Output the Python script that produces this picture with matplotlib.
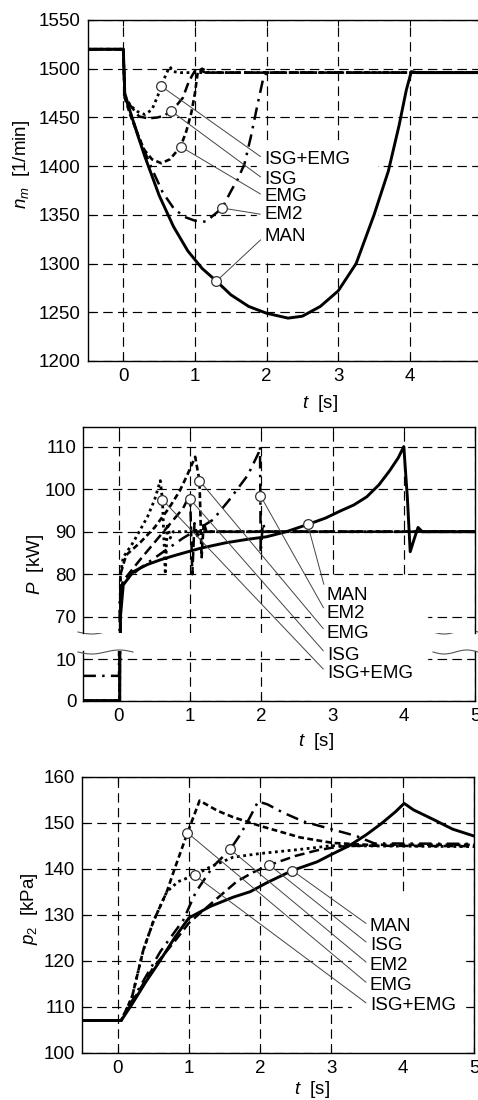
import numpy
import matplotlib.pyplot as plt
from matplotlib.patches import Rectangle
from matplotlib.lines import Line2D

plt.rcParams["font.family"] = ["Liberation Sans", "DejaVu Sans"]
plt.rcParams["font.size"] = 13.5
plt.rcParams["mathtext.fontset"] = "custom"
plt.rcParams["mathtext.it"] = "Liberation Sans:italic"
plt.rcParams["mathtext.rm"] = "Liberation Sans"

W, H = 478, 1100

# ---- engine speed n_m [1/min] ----
tN_MAN = [-0.5, 0.0, 0.02, 0.1, 0.2, 0.3, 0.4, 0.5, 0.7, 0.9, 1.1, 1.3, 1.5, 1.75, 2.0, 2.3, 2.5, 2.75, 3.0, 3.25, 3.5, 3.7, 3.85, 3.95, 4.02, 4.1, 5.0]
nN_MAN = [1520, 1520, 1475, 1455, 1432, 1410, 1390, 1370, 1338, 1313, 1295, 1282, 1268, 1256, 1249, 1244, 1246, 1256, 1272, 1300, 1350, 1395, 1442, 1478, 1497, 1496, 1496]
tN_ISGEMG = [-0.5, 0.0, 0.02, 0.1, 0.2, 0.3, 0.4, 0.48, 0.53, 0.6, 0.65, 0.7, 0.8, 5.0]
nN_ISGEMG = [1520, 1520, 1472, 1462, 1456, 1453, 1458, 1472, 1482, 1495, 1502, 1497, 1496, 1496]
tN_ISG = [-0.5, 0.0, 0.02, 0.1, 0.22, 0.35, 0.48, 0.58, 0.66, 0.75, 0.83, 0.9, 0.96, 1.02, 1.08, 1.15, 5.0]
nN_ISG = [1520, 1520, 1472, 1462, 1451, 1449, 1450, 1452, 1457, 1463, 1470, 1484, 1493, 1500, 1498, 1496, 1496]
tN_EMG = [-0.5, 0.0, 0.02, 0.1, 0.2, 0.29, 0.4, 0.53, 0.65, 0.8, 0.88, 0.95, 1.0, 1.04, 1.1, 1.2, 5.0]
nN_EMG = [1520, 1520, 1470, 1452, 1433, 1417, 1407, 1403, 1407, 1420, 1436, 1455, 1475, 1497, 1500, 1496, 1496]
tN_EM2 = [-0.5, 0.0, 0.02, 0.2, 0.4, 0.55, 0.7, 0.85, 1.0, 1.15, 1.25, 1.38, 1.5, 1.6, 1.69, 1.78, 1.87, 1.95, 2.0, 5.0]
nN_EM2 = [1520, 1520, 1472, 1433, 1397, 1373, 1357, 1348, 1344, 1343, 1349, 1357, 1374, 1387, 1402, 1430, 1462, 1489, 1496, 1496]

nLabels = ["ISG+EMG", "ISG", "EMG", "EM2", "MAN"]
nMarkT = [0.53, 0.66, 0.8, 1.38, 1.30]
nMarkV = [1482, 1457, 1420, 1357, 1282]
nTextV = [1407, 1386, 1369, 1350, 1328]

# ---- power P [kW] ----
tP_MAN = [-0.5, 0.01, 0.02, 0.06, 0.2, 0.4, 0.6, 0.8, 1.14, 1.5, 1.8, 2.07, 2.35, 2.65, 2.9, 3.1, 3.3, 3.48, 3.65, 3.8, 3.92, 4.0, 4.05, 4.09, 4.15, 4.2, 4.26, 5.0]
pP_MAN = [0, 0, 70, 77.5, 80.6, 82.3, 83.5, 84.5, 86.1, 87.4, 88.2, 88.8, 90.0, 91.7, 93.2, 94.8, 96.3, 98.2, 101.0, 104.3, 107.3, 110.0, 98, 85.3, 88.5, 91, 90, 90]
tP_ISGEMG = [-0.5, 0.01, 0.02, 0.06, 0.2, 0.4, 0.5, 0.58, 0.61, 0.65, 0.68, 0.72, 0.76, 5.0]
pP_ISGEMG = [0, 0, 80, 84, 87.5, 93.5, 97.5, 102, 97.5, 80, 92, 88.5, 90, 90]
tP_ISG = [-0.5, 0.01, 0.02, 0.06, 0.3, 0.5, 0.7, 0.9, 0.99, 1.0, 1.03, 1.06, 1.1, 1.15, 5.0]
pP_ISG = [0, 0, 76, 78.5, 83.5, 87.5, 91.5, 95.5, 98.5, 97.6, 80, 92, 89, 90, 90]
tP_EMG = [-0.5, 0.01, 0.02, 0.1, 0.3, 0.5, 0.7, 0.85, 0.95, 1.07, 1.13, 1.16, 1.19, 1.23, 5.0]
pP_EMG = [0, 0, 80, 84.5, 87.5, 91, 95.5, 99.5, 103, 107.6, 102, 84, 92, 90, 90]
tP_EM2 = [-0.5, 0.0, 0.01, 0.05, 0.3, 0.6, 0.9, 1.1, 1.32, 1.55, 1.81, 1.96, 1.98, 1.985, 1.99, 2.02, 2.06, 5.0]
pP_EM2 = [6, 6, 75, 78, 81.5, 85, 88.5, 90.5, 92.8, 97.5, 103.3, 108.5, 110, 98.5, 85, 92, 90, 90]

pLabels = ["MAN", "EM2", "EMG", "ISG", "ISG+EMG"]
pMarkT = [2.65, 1.985, 1.13, 1.0, 0.61]
pMarkV = [91.7, 98.5, 102, 97.6, 97.5]
pTextY = [596, 614, 633, 655, 673]   # rows of the label centres, from the top

# ---- boost pressure p_2 [kPa] ----
tB_MAN = [-0.5, 0.05, 0.2, 0.4, 0.57, 0.8, 1.0, 1.3, 1.62, 1.86, 2.1, 2.45, 2.8, 3.0, 3.25, 3.49, 3.7, 3.9, 4.02, 4.15, 4.43, 4.7, 5.0]
pB_MAN = [107, 107, 110.5, 115.5, 119.4, 125, 129.3, 131.8, 133.8, 135, 137, 139.6, 141.5, 143.1, 145, 147.4, 149.8, 152.4, 154.2, 152.8, 150.7, 148.6, 147.1]
tB_EMG = [-0.5, 0.05, 0.2, 0.36, 0.5, 0.69, 0.8, 0.98, 1.15, 1.4, 1.62, 2.0, 2.56, 3.02, 3.5, 5.0]
pB_EMG = [107, 107, 112, 122.3, 128.5, 135, 140, 147.8, 154.8, 152.6, 151.2, 149.3, 146.8, 145.6, 145.2, 145.2]
tB_ISGEMG = [-0.5, 0.05, 0.2, 0.36, 0.5, 0.69, 0.85, 1.08, 1.3, 1.62, 2.0, 2.56, 3.0, 5.0]
pB_ISGEMG = [107, 107, 112, 122.3, 128.5, 135, 137.2, 138.6, 140.4, 142.5, 143.3, 144.2, 145, 144.8]
tB_EM2 = [-0.5, 0.05, 0.3, 0.6, 0.92, 1.1, 1.34, 1.58, 1.72, 1.85, 1.97, 2.1, 2.32, 2.6, 3.02, 3.35, 3.6, 5.0]
pB_EM2 = [107, 107, 114, 122, 128.8, 135, 140.5, 144.2, 147.4, 151, 154.6, 154, 152.2, 150.3, 148.5, 147.1, 145.5, 145.4]
tB_ISG = [-0.5, 0.05, 0.3, 0.5, 0.83, 1.0, 1.34, 1.67, 1.9, 2.13, 2.5, 2.8, 3.1, 3.4, 5.0]
pB_ISG = [107, 107, 113.5, 118.5, 124.8, 128.2, 132.8, 137.2, 139.2, 140.8, 142.8, 144, 144.8, 145, 144.9]

bLabels = ["MAN", "ISG", "EM2", "EMG", "ISG+EMG"]
bMarkT = [2.45, 2.13, 1.58, 0.98, 1.08]
bMarkV = [139.6, 140.8, 144.2, 147.8, 138.6]
bTextV = [127.5, 123.4, 119.0, 114.6, 110.2]

# line style per strategy
STYLE = {
    "MAN": dict(linestyle="-", lw=2.1),
    "ISG+EMG": dict(linestyle=(0, (1, 1.3)), lw=2.0),
    "ISG": dict(linestyle=(0, (4, 2)), lw=1.8),
    "EMG": dict(linestyle=(0, (2.2, 1.3)), lw=1.9),
    "EM2": dict(linestyle=(0, (5, 2.5, 1, 2.5)), lw=1.8),
}
GRID = (0, (8, 4.5))
LEAD = dict(arrowstyle="-", color="#444444", lw=0.7, shrinkA=1, shrinkB=3.6, relpos=(0, 0.5))


def pxBox(left, top, right, bottom): #pixel box -> figure fraction rect
    return [left / W, 1 - bottom / H, (right - left) / W, (bottom - top) / H]


def styleAx(ax, yticks):
    ax.set_xlim(-0.5, 5)
    ax.set_xticks([0, 1, 2, 3, 4, 5])
    ax.set_yticks(yticks)
    ax.set_axisbelow(True)
    ax.grid(True, color="black", linestyle=GRID, lw=0.85)
    ax.tick_params(direction="in", length=4, width=0.8, top=True, right=True, pad=5, colors="black")
    for s in ax.spines.values():
        s.set_linewidth(1.0)


def drawCurves(ax, curves):
    for name, t, v in curves:
        ax.plot(t, v, color="black", zorder=3, **STYLE[name])


fig = plt.figure(figsize=(W / 100, H / 100), dpi=100)

# ---------- speed ----------
axN = fig.add_axes(pxBox(87.5, 20, 481.5, 361))
styleAx(axN, range(1200, 1551, 50))
axN.set_ylim(1200, 1550)
axN.add_patch(Rectangle((1.87, 1305.6), 3.54 - 1.87, 1423.7 - 1305.6, color="white", zorder=1))
drawCurves(axN, [("MAN", tN_MAN, nN_MAN), ("ISG+EMG", tN_ISGEMG, nN_ISGEMG), ("ISG", tN_ISG, nN_ISG),
                 ("EMG", tN_EMG, nN_EMG), ("EM2", tN_EM2, nN_EM2)])
for i in range(len(nLabels)):
    axN.annotate(nLabels[i], xy=(nMarkT[i], nMarkV[i]), xytext=(1.97, nTextV[i]), ha="left", va="center",
                 arrowprops=LEAD, zorder=5)
axN.plot(nMarkT, nMarkV, "o", ms=7, mfc="white", mec="#333333", mew=0.9, zorder=6)

# ---------- power (broken axis) ----------
axPU = fig.add_axes(pxBox(83.4, 427, 475, 633))
axPL = fig.add_axes(pxBox(83.4, 651, 475, 700.7))
axPU.set_zorder(2)
styleAx(axPU, [70, 80, 90, 100, 110])
styleAx(axPL, [0, 10])
axPU.set_ylim(66.2, 114.6)
axPL.set_ylim(0, 12)
axPU.spines["bottom"].set_visible(False)
axPL.spines["top"].set_visible(False)
axPU.tick_params(bottom=False, labelbottom=False)
axPL.tick_params(top=False)
axPU.add_patch(Rectangle((2.7, 66.2), 4.33 - 2.7, 79.1 - 66.2, color="white", zorder=1))
axPL.add_patch(Rectangle((2.7, 0), 4.33 - 2.7, 12, color="white", zorder=1))
pCurves = [("MAN", tP_MAN, pP_MAN), ("ISG+EMG", tP_ISGEMG, pP_ISGEMG), ("ISG", tP_ISG, pP_ISG),
           ("EMG", tP_EMG, pP_EMG), ("EM2", tP_EM2, pP_EM2)]
drawCurves(axPU, pCurves)
drawCurves(axPL, pCurves)
for i in range(len(pLabels)):
    axPU.annotate(pLabels[i], xy=(pMarkT[i], pMarkV[i]), xytext=(327, H - pTextY[i]),
                  textcoords="figure pixels", ha="left", va="center", arrowprops=LEAD, zorder=5,
                  annotation_clip=False)
axPU.plot(pMarkT, pMarkV, "o", ms=7, mfc="white", mec="#333333", mew=0.9, zorder=6)

# wavy break marks
xs = numpy.linspace(0, 1, 40)
for y0 in (632, 652):
    for x0, x1 in ((78, 133), (433, 478)):
        xx = x0 + (x1 - x0) * xs
        yy = y0 + 2.0 * numpy.sin(2 * numpy.pi * xs)
        fig.add_artist(Line2D(xx / W, 1 - yy / H, color="#555555", lw=0.8))

# ---------- boost pressure ----------
axB = fig.add_axes(pxBox(82, 776.7, 474, 1052.7))
styleAx(axB, range(100, 161, 10))
axB.set_ylim(100, 160)
axB.add_patch(Rectangle((3.29, 100), 4.84 - 3.29, 134.3 - 100, color="white", zorder=1))
drawCurves(axB, [("MAN", tB_MAN, pB_MAN), ("EMG", tB_EMG, pB_EMG), ("ISG+EMG", tB_ISGEMG, pB_ISGEMG),
                 ("EM2", tB_EM2, pB_EM2), ("ISG", tB_ISG, pB_ISG)])
for i in range(len(bLabels)):
    axB.annotate(bLabels[i], xy=(bMarkT[i], bMarkV[i]), xytext=(3.54, bTextV[i]), ha="left", va="center",
                 arrowprops=LEAD, zorder=5)
axB.plot(bMarkT, bMarkV, "o", ms=7, mfc="white", mec="#333333", mew=0.9, zorder=6)

# axis titles
fig.text(22 / W, 1 - 164 / H, r"$n_m$  [1/min]", rotation=90, ha="center", va="center")
fig.text(35 / W, 1 - 564 / H, r"$P$  [kW]", rotation=90, ha="center", va="center")
fig.text(29 / W, 1 - 909 / H, r"$p_2$  [kPa]", rotation=90, ha="center", va="center")
for xc, yc in ((320, 403), (316, 741), (312, 1089)):
    fig.text(xc / W, 1 - yc / H, r"$t$  [s]", ha="center", va="center")

fig.savefig("out.png", dpi=100)
